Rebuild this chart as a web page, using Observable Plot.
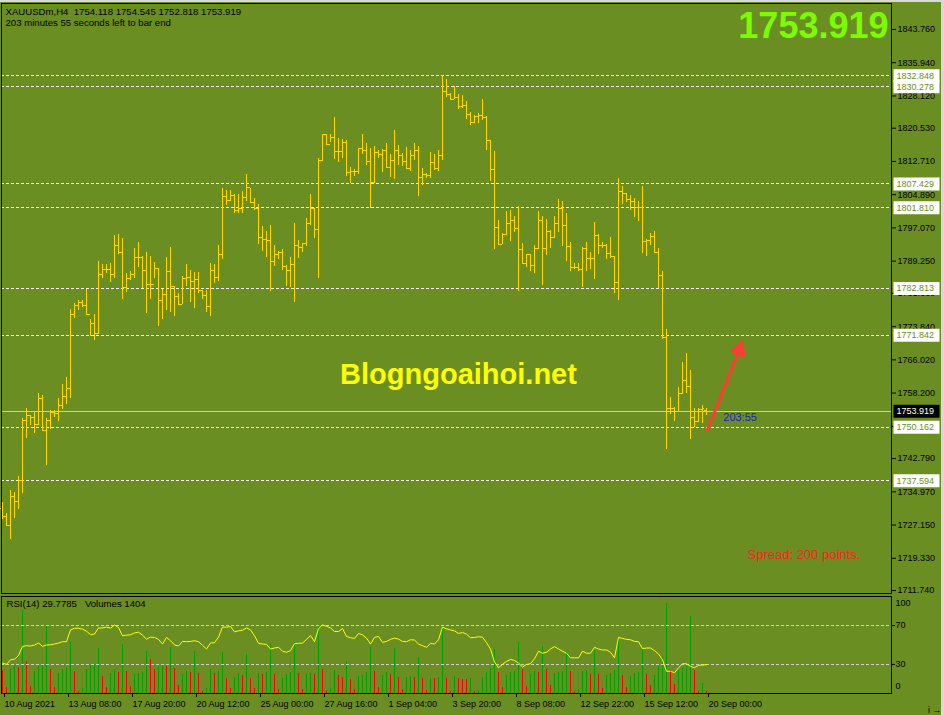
<!DOCTYPE html>
<html><head><meta charset="utf-8">
<script src="https://cdn.jsdelivr.net/npm/d3@7"></script>
<script src="https://cdn.jsdelivr.net/npm/@observablehq/plot@0.6"></script>
<style>
body{margin:0;background:#6B8E23;}
#chart{position:relative;width:944px;height:715px;overflow:hidden;background:#6B8E23;}
#chart svg{position:absolute;left:0;}
.strip{position:absolute;background:#D9D9D9;}
</style></head><body><div id="chart"></div>
<script>
const FONT = "'Liberation Sans', Arial, sans-serif";

const highs = [
1732.39,1729.80,1735.28,1734.81,1738.58,1752.22,1754.58,1752.86,1753.64,1758.11,
1757.64,1752.22,1754.11,1754.11,1756.93,1760.23,1761.87,1777.87,1779.21,1779.92,
1779.99,1782.65,1775.45,1776.63,1789.17,1788.46,1788.46,1788.77,1795.36,1795.59,
1794.65,1786.34,1786.74,1792.23,1793.64,1790.34,1791.28,1790.34,1788.93,1787.46,
1782.51,1790.11,1792.46,1783.36,1781.64,1785.64,1788.46,1787.05,1786.58,1786.58,
1782.41,1782.34,1788.70,1788.46,1792.93,1806.34,1805.94,1805.87,1804.86,1804.93,
1805.64,1809.64,1806.34,1803.99,1802.51,1797.40,1796.30,1797.64,1792.93,1791.52,
1791.99,1788.23,1790.11,1798.11,1794.11,1793.47,1799.21,1804.93,1801.57,1813.33,
1819.05,1819.05,1818.98,1823.05,1818.11,1817.87,1817.57,1811.28,1810.88,1815.68,
1819.05,1816.93,1815.76,1816.30,1815.36,1815.59,1816.93,1814.34,1819.99,1816.46,
1814.58,1815.99,1815.28,1816.93,1816.23,1811.05,1809.94,1814.81,1814.34,1815.28,
1832.85,1831.90,1828.77,1830.27,1828.39,1828.23,1826.81,1824.16,1823.52,1823.92,
1827.29,1823.28,1817.57,1815.05,1798.81,1795.82,1801.00,1801.17,1799.76,1802.04,
1793.33,1790.81,1790.75,1792.93,1801.00,1799.82,1799.05,1796.46,1799.76,1803.68,
1803.28,1800.46,1793.64,1788.63,1788.63,1792.38,1793.64,1791.28,1798.35,1795.59,
1793.64,1793.10,1794.81,1790.34,1808.70,1806.75,1805.23,1804.63,1804.06,1803.21,
1806.81,1794.34,1795.68,1796.23,1792.20,1786.82,1773.09,1757.17,1754.74,1759.52,
1765.40,1767.52,1763.52,1754.51,1754.58,1755.21,1754.545];

const lows = [
1728.39,1726.98,1723.82,1728.77,1730.88,1734.65,1747.59,1750.65,1748.77,1750.51,
1749.24,1741.24,1749.57,1752.53,1751.59,1754.41,1755.59,1757.00,1775.82,1777.71,
1778.27,1776.63,1771.59,1770.65,1772.06,1785.24,1786.41,1784.30,1785.24,1790.88,
1780.30,1781.94,1784.70,1785.10,1787.83,1782.74,1777.00,1780.30,1785.24,1773.94,
1775.45,1777.71,1777.09,1776.30,1778.74,1778.98,1783.22,1779.59,1778.18,1781.56,
1780.15,1777.24,1776.30,1784.07,1784.54,1789.71,1802.41,1803.36,1800.53,1800.53,
1800.53,1803.36,1802.98,1801.10,1793.17,1791.59,1790.11,1782.18,1788.06,1789.57,
1787.05,1783.36,1783.05,1779.59,1789.95,1791.21,1792.76,1797.57,1794.51,1785.10,
1812.62,1816.63,1817.10,1813.24,1812.53,1813.47,1809.10,1807.52,1809.24,1809.57,
1814.27,1811.82,1801.57,1807.59,1813.47,1810.17,1811.05,1808.99,1808.52,1811.82,
1811.46,1810.97,1810.41,1813.00,1804.53,1806.97,1808.77,1808.77,1810.50,1810.41,
1812.93,1827.83,1827.12,1827.36,1825.00,1825.24,1822.67,1821.17,1821.71,1821.71,
1822.41,1815.28,1807.99,1792.06,1792.91,1793.17,1795.28,1793.94,1796.06,1782.18,
1788.39,1787.76,1786.88,1786.41,1791.92,1783.52,1790.58,1792.29,1794.51,1796.06,
1792.70,1789.24,1786.88,1787.29,1786.88,1783.11,1786.88,1787.29,1784.98,1790.88,
1792.29,1789.57,1789.87,1781.55,1780.06,1802.65,1803.05,1801.24,1799.50,1798.64,
1791.12,1790.41,1793.00,1790.98,1782.81,1770.87,1745.00,1753.09,1751.44,1753.87,
1757.80,1758.17,1747.22,1750.11,1751.36,1751.12,1752.818];

const opens = [
1731.00,1729.17,1727.05,1733.80,1732.62,1737.64,1751.75,1752.86,1752.39,1750.81,
1756.86,1749.40,1751.75,1753.64,1753.40,1755.21,1757.39,1759.21,1776.63,1778.74,
1779.52,1778.74,1776.70,1774.51,1772.15,1786.11,1787.22,1787.36,1786.04,1792.93,
1791.21,1783.12,1785.10,1786.11,1790.04,1790.04,1787.01,1783.69,1783.76,1787.46,
1779.92,1781.33,1786.74,1783.22,1780.85,1778.98,1785.10,1785.33,1784.39,1784.86,
1782.34,1781.25,1778.51,1787.01,1785.33,1790.75,1804.53,1803.59,1804.63,1801.10,
1801.71,1804.16,1806.50,1802.98,1801.71,1794.75,1794.34,1794.03,1789.22,1790.75,
1791.36,1787.92,1787.01,1788.39,1793.00,1792.53,1793.33,1798.03,1801.57,1796.70,
1812.86,1818.98,1816.77,1818.24,1814.98,1814.98,1817.17,1810.04,1810.34,1810.27,
1815.68,1815.28,1812.62,1807.69,1814.74,1814.27,1815.28,1811.21,1812.86,1815.28,
1814.03,1812.77,1811.05,1814.03,1815.36,1808.86,1809.64,1809.33,1812.38,1810.97,
1813.99,1829.17,1828.39,1827.36,1827.76,1825.64,1825.80,1823.69,1821.87,1823.38,
1823.45,1822.98,1817.57,1810.73,1797.17,1793.24,1795.44,1798.11,1798.79,1796.87,
1791.99,1788.62,1790.75,1788.15,1792.23,1798.79,1792.16,1796.17,1794.81,1798.11,
1801.57,1797.61,1792.69,1787.75,1787.75,1787.21,1792.23,1789.80,1789.80,1795.26,
1793.00,1792.93,1790.98,1790.34,1784.17,1805.64,1805.10,1803.68,1803.21,1801.87,
1801.94,1793.87,1794.18,1795.05,1791.28,1785.80,1771.29,1754.58,1754.58,1753.87,
1758.03,1761.28,1759.76,1752.53,1751.52,1754.41,1754.118];

const closes = [
1729.17,1727.05,1733.80,1732.62,1737.64,1751.75,1752.86,1752.39,1750.81,1756.86,
1749.40,1751.75,1753.64,1753.40,1755.21,1757.39,1759.21,1776.63,1778.74,1779.52,
1778.74,1776.70,1774.51,1772.15,1786.11,1787.22,1787.36,1786.04,1792.93,1791.21,
1783.12,1785.10,1786.11,1790.04,1790.04,1787.01,1783.69,1783.76,1787.46,1779.92,
1781.33,1786.74,1783.22,1780.85,1778.98,1785.10,1785.33,1784.39,1784.86,1782.34,
1781.25,1778.51,1787.01,1785.33,1790.75,1804.53,1803.59,1804.63,1801.10,1801.71,
1804.16,1806.50,1802.98,1801.71,1794.75,1794.34,1794.03,1789.22,1790.75,1791.36,
1787.92,1787.01,1788.39,1793.00,1792.53,1793.33,1798.03,1801.57,1796.70,1812.86,
1818.98,1816.77,1818.24,1814.98,1814.98,1817.17,1810.04,1810.34,1810.27,1815.68,
1815.28,1812.62,1807.69,1814.74,1814.27,1815.28,1811.21,1812.86,1815.28,1814.03,
1812.77,1811.05,1814.03,1815.36,1808.86,1809.64,1809.33,1812.38,1810.97,1813.99,
1829.17,1828.39,1827.36,1827.76,1825.64,1825.80,1823.69,1821.87,1823.38,1823.45,
1822.98,1817.57,1810.73,1797.17,1793.24,1795.44,1798.11,1798.79,1796.87,1791.99,
1788.62,1790.75,1788.15,1792.23,1798.79,1792.16,1796.17,1794.81,1798.11,1801.57,
1797.61,1792.69,1787.75,1787.75,1787.21,1792.23,1789.80,1789.80,1795.26,1793.00,
1792.93,1790.98,1790.34,1784.17,1805.64,1805.10,1803.68,1803.21,1801.87,1801.94,
1793.87,1794.18,1795.05,1791.28,1785.80,1771.29,1754.58,1754.58,1753.87,1758.03,
1761.28,1759.76,1752.53,1751.52,1754.41,1754.51,1753.919];

const volumes = [
14000,3600,14600,17000,15800,50000,19400,4400,13400,16400,
16800,41000,14600,3800,12200,14600,15200,31000,13400,1400,
3200,14600,17000,17600,27200,10400,3800,12200,14000,12800,
29600,13400,4400,11600,12000,12800,25400,20600,14600,16400,
17600,16400,27800,15200,5000,11600,13400,13000,25400,12200,
1400,3200,14600,12200,13400,24800,9200,3200,9600,12200,
11000,23600,9200,3200,12200,11600,12800,29600,11600,2600,
9200,11600,12800,30800,12200,2600,11600,12200,11800,40400,
14600,1400,3200,14000,11000,9800,19400,8600,2600,10400,
10800,12800,27800,13400,3800,11000,12800,11600,27200,9600,
2600,9600,10000,9400,21800,9200,2000,9200,9000,9800,
41000,9200,1400,10400,9000,8600,8400,9000,1400,2000,
9600,12600,15200,26400,12800,3600,11000,12800,13200,31000,
14600,4400,11600,13400,12800,28600,14600,4800,12200,12800,
13400,25000,13400,1400,2600,13400,14000,11600,26000,11600,
3200,11000,12200,14000,32400,11000,3800,10400,12200,12600,
27400,11600,5000,11000,16400,21800,54600,14000,5600,14000,
15200,16400,46400,14000,1400,6000,1404];

const rsi = [
31.4,30.0,34.7,35.4,39.2,48.6,49.3,49.0,50.0,52.0,
48.6,50.0,50.3,51.0,52.0,53.4,53.4,65.6,67.3,67.3,
66.3,64.2,60.8,61.2,67.6,67.6,68.6,67.3,70.7,68.0,
59.5,60.2,60.5,62.5,63.2,60.2,56.1,58.1,57.8,55.8,
51.0,57.8,54.4,50.0,49.0,53.7,53.4,53.7,54.4,53.4,
49.7,45.9,52.0,52.4,58.1,68.6,68.3,69.0,63.6,64.6,
65.3,67.6,65.6,59.5,51.7,51.0,50.7,45.9,46.9,47.6,
43.6,42.5,44.2,51.4,51.7,52.0,55.8,59.8,53.4,66.9,
70.7,69.3,67.6,63.9,63.9,66.9,58.8,57.5,56.8,61.9,
60.5,57.1,51.0,57.8,58.8,52.7,53.7,55.8,57.1,56.1,
53.7,53.4,55.4,55.1,51.0,49.3,47.6,51.7,51.0,55.4,
68.6,66.6,65.6,64.6,61.9,62.9,61.2,57.5,57.8,58.5,
58.1,52.4,45.9,32.4,26.6,30.0,33.1,35.1,34.1,31.4,
27.3,30.0,30.7,35.8,43.6,41.5,42.5,45.9,48.3,45.9,
43.6,41.5,36.8,36.8,36.8,43.6,41.5,41.5,47.6,45.9,
44.9,44.9,42.5,36.8,57.8,56.8,55.8,55.4,53.7,53.4,
46.3,46.9,46.9,44.2,40.8,34.7,22.9,22.9,21.5,26.6,
30.7,30.7,28.0,26.6,29.0,29.3,29.78];

const priceTicks = [1843.760,1835.940,1828.120,1820.530,1812.710,1804.890,1797.070,1789.250,1781.660,1773.840,1766.020,1758.200,1750.380,1742.790,1734.970,1727.150,1719.330,1711.740];
const levelLines = [1832.848,1830.278,1807.429,1801.810,1782.813,1771.842,1750.162,1737.594];
const bidPrice = [1753.919];
const timeTickIdx = [0,16,32,48,64,80,96,112,128,144,160,176];
const timeLabels = ["10 Aug 2021","13 Aug 08:00","17 Aug 20:00","20 Aug 12:00","25 Aug 00:00","27 Aug 16:00","1 Sep 04:00","3 Sep 20:00","8 Sep 08:00","12 Sep 22:00","15 Sep 12:00","20 Sep 00:00"];
const rsiLevels = [70, 30];
const rsiEnds = [100, 0];
const arrowSeg = [{i1: 176.1, p1: 1749.2, i2: 184.2, p2: 1768.4, angle: 21}];
const timerNote = [{i: 180.2, p: 1752.45, text: "203:55"}];
const watermark = [{i: 114, p: 1762.6, text: "Blogngoaihoi.net"}];
const header1 = "XAUUSDm,H4  1754.118 1754.545 1752.818 1753.919";
const header2 = "203 minutes 55 seconds left to bar end";
const bigPrice = "1753.919";
const spreadText = "Spread: 200 points.";
const rsiHeader = "RSI(14) 29.7785   Volumes 1404";

const bars = highs.map((h, i) => ({i, open: opens[i], high: h, low: lows[i], close: closes[i]}));
const vols = volumes.map((v, i) => ({i, v, up: i > 0 && v > volumes[i - 1]}));

const OLIVE = "#6B8E23", GOLD = "#FFD700", CRISP = "crispEdges";
const xDomain = [-0.25, 222.25];
const boxSym = {draw(ctx) { ctx.moveTo(-23, -6.5); ctx.lineTo(23, -6.5); ctx.lineTo(23, 6.5); ctx.lineTo(-23, 6.5); ctx.closePath(); }};

const root = document.getElementById("chart");

const main = Plot.plot({
  width: 944, height: 594,
  marginLeft: 1, marginRight: 53, marginTop: 3, marginBottom: 1,
  style: {background: OLIVE, color: "black", fontFamily: FONT, fontSize: "9px", overflow: "visible"},
  x: {domain: xDomain, axis: null},
  y: {domain: [1711.05, 1849.87]},
  marks: [
    Plot.ruleY(levelLines, {stroke: "white", strokeDasharray: "3,2", shapeRendering: CRISP}),
    Plot.ruleY(bidPrice, {stroke: "#C8C8C8", shapeRendering: CRISP}),
    Plot.ruleX(bars, {x: "i", y1: "low", y2: "high", stroke: GOLD, shapeRendering: CRISP}),
    Plot.ruleY(bars, {y: "open", x1: d => d.i - 0.45, x2: "i", stroke: GOLD, shapeRendering: CRISP}),
    Plot.ruleY(bars, {y: "close", x1: "i", x2: d => d.i + 0.45, stroke: GOLD, shapeRendering: CRISP}),
    Plot.text(watermark, {x: "i", y: "p", text: "text", fill: "#FFFF00", fontSize: 29, fontWeight: "bold", fontFamily: FONT}),
    Plot.text(timerNote, {x: "i", y: "p", text: "text", textAnchor: "start", fill: "#1a1ad0", fontSize: 11, fontFamily: FONT}),
    Plot.link(arrowSeg, {x1: "i1", y1: "p1", x2: "i2", y2: "p2", stroke: "#FF3C32", strokeWidth: 3}),
    Plot.dot(arrowSeg, {x: "i2", y: "p2", symbol: "triangle", rotate: "angle", r: 5.5, fill: "#FF3C32", stroke: "#FF3C32"}),
    Plot.axisY(priceTicks, {anchor: "right", tickFormat: d3.format(".3f"), tickSize: 4, tickPadding: 2, fontSize: 9, fontFamily: FONT}),
    Plot.dot(levelLines, {y: d => d, frameAnchor: "right", dx: 25, symbol: boxSym, fill: "white", r: 5}),
    Plot.text(levelLines, {y: d => d, text: d => d.toFixed(3), frameAnchor: "right", dx: 5, textAnchor: "start", fill: OLIVE, fontSize: 9, fontFamily: FONT}),
    Plot.dot(bidPrice, {y: d => d, frameAnchor: "right", dx: 25, symbol: boxSym, fill: "black", r: 5}),
    Plot.text(bidPrice, {y: d => d, text: d => d.toFixed(3), frameAnchor: "right", dx: 5, textAnchor: "start", fill: "white", fontSize: 9, fontFamily: FONT}),
    Plot.text([header1], {text: d => d, frameAnchor: "top-left", dx: 4, dy: 5, textAnchor: "start", lineAnchor: "top", fontSize: 9.6, fontFamily: FONT}),
    Plot.text([header2], {text: d => d, frameAnchor: "top-left", dx: 4, dy: 16, textAnchor: "start", lineAnchor: "top", fontSize: 9.6, fontFamily: FONT}),
    Plot.text([bigPrice], {text: d => d, frameAnchor: "top-right", dx: -3, dy: 9, textAnchor: "end", lineAnchor: "top", fontSize: 36, fontWeight: "bold", fill: "#7CFC00", fontFamily: FONT}),
    Plot.text([spreadText], {text: d => d, frameAnchor: "top-left", dx: 746, dy: 546, textAnchor: "start", lineAnchor: "top", fontSize: 13, fill: "#FF2020", fontFamily: FONT}),
    Plot.frame({stroke: "black", shapeRendering: CRISP})
  ]
});
main.style.top = "0px";
root.appendChild(main);

const volPlot = Plot.plot({
  width: 944, height: 121,
  marginLeft: 1, marginRight: 53, marginTop: 2, marginBottom: 22,
  style: {background: OLIVE, color: "black", fontFamily: FONT, fontSize: "9px", overflow: "visible"},
  x: {domain: xDomain},
  y: {domain: [0, 58700], axis: null},
  color: {type: "identity"},
  marks: [
    Plot.ruleX(vols, {x: "i", y1: 0, y2: "v", stroke: d => d.up ? "#00A000" : "#FF0000", shapeRendering: CRISP}),
    Plot.axisX(timeTickIdx, {tickFormat: d => timeLabels[timeTickIdx.indexOf(d)], textAnchor: "start", tickSize: 4, tickPadding: 3, dx: 2, fontSize: 9, fontFamily: FONT})
  ]
});
volPlot.style.top = "594px";
root.appendChild(volPlot);

const rsiPlot = Plot.plot({
  width: 944, height: 121,
  marginLeft: 1, marginRight: 53, marginTop: 2, marginBottom: 22,
  style: {background: "transparent", color: "black", fontFamily: FONT, fontSize: "9px", overflow: "visible"},
  x: {domain: xDomain, axis: null},
  y: {domain: [0, 100]},
  marks: [
    Plot.ruleY(rsiLevels, {stroke: "#D0D0D0", strokeDasharray: "3,2", shapeRendering: CRISP}),
    Plot.line(rsi, {x: (d, i) => i, y: d => d, stroke: "#FFFF00", strokeWidth: 1}),
    Plot.axisY(rsiLevels, {anchor: "right", tickSize: 3, tickPadding: 1, fontSize: 9, fontFamily: FONT}),
    Plot.text([rsiEnds[0]], {y: d => d, text: d => String(d), frameAnchor: "right", dx: 4, dy: 7, textAnchor: "start", fontSize: 9, fontFamily: FONT}),
    Plot.text([rsiEnds[1]], {y: d => d, text: d => String(d), frameAnchor: "right", dx: 4, dy: -7, textAnchor: "start", fontSize: 9, fontFamily: FONT}),
    Plot.text([rsiHeader], {text: d => d, frameAnchor: "top-left", dx: 5, dy: 4, textAnchor: "start", lineAnchor: "top", fontSize: 9.6, fontFamily: FONT}),
    Plot.frame({stroke: "black", shapeRendering: CRISP})
  ]
});
rsiPlot.style.top = "594px";
root.appendChild(rsiPlot);

const topStrip = document.createElement("div");
topStrip.className = "strip";
topStrip.style.cssText = "left:0;top:0;width:944px;height:2px;";
root.appendChild(topStrip);
const rightStrip = document.createElement("div");
rightStrip.className = "strip";
rightStrip.style.cssText = "left:941px;top:0;width:3px;height:715px;";
root.appendChild(rightStrip);
</script></body></html>
